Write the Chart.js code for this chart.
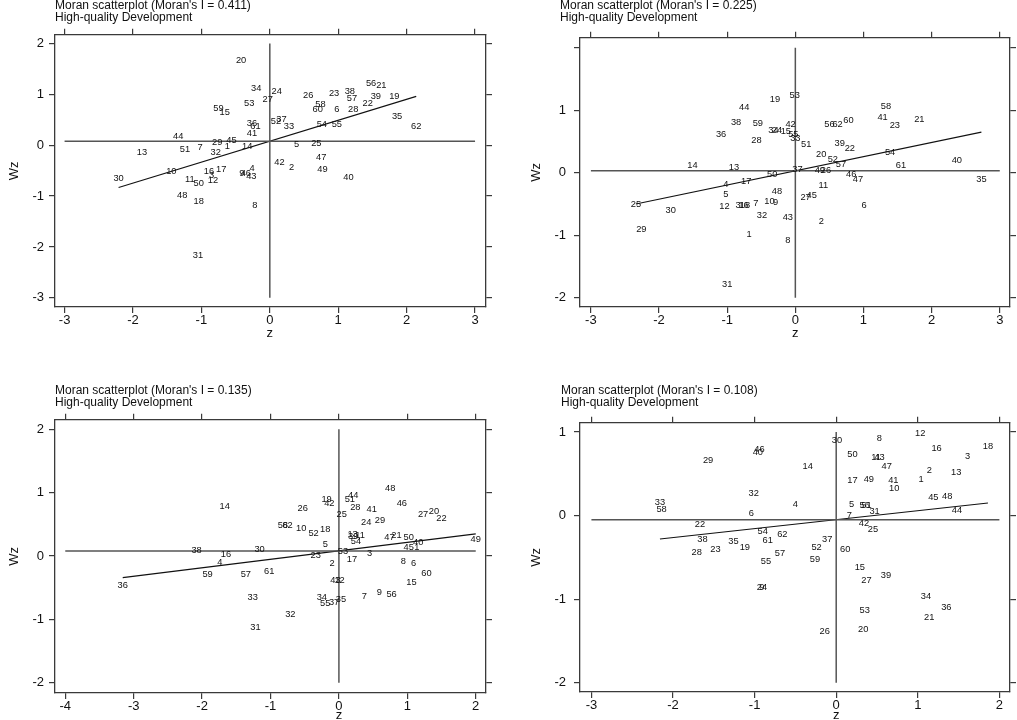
<!DOCTYPE html>
<html>
<head>
<meta charset="utf-8">
<script src="https://cdn.jsdelivr.net/npm/chart.js@4.4.1/dist/chart.umd.min.js"></script>
<style>
body{margin:0;background:#fff;width:1017px;height:720px;position:relative;overflow:hidden;font-family:"Liberation Sans",Arial,sans-serif;}
canvas{position:absolute;}
.ttl{position:absolute;font-size:12px;line-height:11.5px;color:#111;white-space:nowrap;}
</style>
</head>
<body>
<canvas id="chart1" width="500" height="320" style="left:0;top:22px"></canvas>
<canvas id="chart2" width="509" height="320" style="left:508px;top:22px"></canvas>
<canvas id="chart3" width="500" height="313" style="left:0;top:407px"></canvas>
<canvas id="chart4" width="509" height="313" style="left:508px;top:407px"></canvas>
<div class="ttl" style="left:55px;top:0">Moran scatterplot (Moran's I = 0.411)<br>High-quality Development</div>
<div class="ttl" style="left:560px;top:0">Moran scatterplot (Moran's I = 0.225)<br>High-quality Development</div>
<div class="ttl" style="left:55px;top:385px">Moran scatterplot (Moran's I = 0.135)<br>High-quality Development</div>
<div class="ttl" style="left:561px;top:385px">Moran scatterplot (Moran's I = 0.108)<br>High-quality Development</div>
<script>
//region numbers, same order in every panel
const regionIds=[1,2,3,4,5,6,7,8,9,10,11,12,13,14,15,16,17,18,19,20,21,22,23,24,25,26,27,28,29,30,
  31,32,33,34,35,36,37,38,39,40,41,42,43,44,45,46,47,48,49,50,51,52,53,54,55,56,57,58,59,60,61,62];

//panel 1 (I = 0.411)
const p1Z=[-0.62,0.32,-0.85,-0.26,0.39,0.98,-1.02,-0.22,-0.41,-1.44, -1.17,-0.83,-1.87,-0.33,-0.66,-0.89,-0.71,-1.04,1.82,-0.42,
  1.63,1.43,0.94,0.10,0.68,0.56,-0.03,1.22,-0.77,-2.21, -1.05,-0.79,0.28,-0.20,1.86,-0.26,0.17,1.17,1.55,1.15,
  -0.26,0.14,-0.27,-1.34,-0.56,-0.35,0.75,-1.28,0.77,-1.04, -1.24,0.09,-0.30,0.76,0.98,1.48,1.20,0.74,-0.75,0.70, -0.21,2.14];
const p1Wz=[-0.03,-0.43,-0.60,-0.45,0.01,0.70,-0.05,-1.18,-0.56,-0.52, -0.68,-0.69,-0.15,-0.03,0.65,-0.51,-0.47,-1.11,0.95,1.66,
  1.18,0.83,1.02,1.05,0.04,0.97,0.90,0.70,0.05,-0.66, -2.17,-0.15,0.36,1.11,0.56,0.43,0.50,1.05,0.96,-0.63,
  0.23,-0.33,-0.62,0.17,0.10,-0.56,-0.24,-0.99,-0.47,-0.75, -0.08,0.46,0.83,0.41,0.41,1.22,0.91,0.80,0.72,0.71, 0.36,0.36];
const p1FitZ=[-2.21,2.14], p1FitWz=[-0.83,0.96];
const p1MeanWz=0.08;
const p1XTicks=[-3,-2,-1,0,1,2,3], p1XLabels=['-3','-2','-1','0','1','2','3'];
const p1YTicks=[-3,-2,-1,0,1,2], p1YLabels=['-3','-2','-1','0','1','2'];

//panel 2 (I = 0.225)
const p2Z=[-0.68,0.38,-0.84,-1.02,-1.02,1.01,-0.58,-0.11,-0.29,-0.38, 0.41,-1.04,-0.90,-1.51,-0.14,-0.76,-0.72,-0.74,-0.30,0.38,
  1.82,0.80,1.46,-0.27,-2.34,0.45,0.15,-0.57,-2.26,-1.83, -1.00,-0.49,0.00,-0.32,2.73,-1.09,0.03,-0.87,0.65,2.37,
  1.28,-0.07,-0.11,-0.75,0.24,0.82,0.92,-0.27,0.36,-0.34, 0.16,0.55,-0.01,1.39,-0.03,0.50,0.67,1.33,-0.55,0.78, 1.55,0.62];
const p2Wz=[-0.99,-0.78,-0.52,-0.19,-0.34,-0.52,-0.49,-1.08,-0.47,-0.46, -0.21,-0.54,0.08,0.11,0.66,-0.52,-0.14,-0.52,1.17,0.30,
  0.86,0.39,0.75,0.67,-0.51,0.03,-0.40,0.51,-0.91,-0.61, -1.79,-0.69,0.55,0.67,-0.11,0.62,0.05,0.81,0.47,0.20,
  0.89,0.78,-0.71,1.04,-0.37,-0.03,-0.10,-0.30,0.03,-0.02, 0.45,0.22,1.24,0.32,0.61,0.77,0.13,1.06,0.79,0.83, 0.12,0.77];
const p2FitZ=[-2.34,2.73], p2FitWz=[-0.50,0.65];
const p2MeanWz=0.03;
const p2XTicks=[-3,-2,-1,0,1,2,3], p2XLabels=['-3','-2','-1','0','1','2','3'];
const p2YTicks=[-2,-1,0,1,2], p2YLabels=['-2','-1','0','1',''];

//panel 3 (I = 0.135)
const p3Z=[1.14,-0.10,0.45,-1.74,-0.20,1.09,0.37,0.94,0.59,-0.55, 0.31,0.01,0.20,-1.67,1.06,-1.65,0.19,-0.20,-0.18,1.39,
  0.84,1.50,-0.34,0.40,0.04,-0.53,1.23,0.24,0.60,-1.16, -1.22,-0.71,-1.26,-0.25,0.03,-3.16,-0.07,-2.08,0.21,1.16,
  0.48,-0.14,-0.05,0.21,1.02,0.92,0.74,0.75,2.00,1.02, 0.16,-0.37,0.06,0.25,-0.20,0.77,-1.36,-0.82,-1.92,1.28, -1.02,-0.75];
const p3Wz=[0.14,-0.12,0.04,-0.10,0.18,-0.11,-0.64,-0.09,-0.57,0.43, 0.33,-0.39,0.34,0.79,-0.42,0.03,-0.05,0.42,0.89,0.70,
  0.33,0.59,0.01,0.53,0.65,0.75,0.65,0.77,0.57,0.10, -1.13,-0.92,-0.66,-0.66,-0.68,-0.46,-0.73,0.09,0.31,0.22,
  0.74,0.83,-0.39,0.95,0.14,0.83,0.29,1.06,0.27,0.29, 0.90,0.36,0.08,0.23,-0.75,-0.60,-0.29,0.49,-0.29,-0.28, -0.24,0.49];
const p3FitZ=[-3.16,2.00], p3FitWz=[-0.34,0.35];
const p3MeanWz=0.08;
const p3XTicks=[-4,-3,-2,-1,0,1,2], p3XLabels=['-4','-3','-2','-1','0','1','2'];
const p3YTicks=[-2,-1,0,1,2], p3YLabels=['-2','-1','0','1','2'];

//panel 4 (I = 0.108)
const p4Z=[1.04,1.14,1.61,-0.50,0.19,-1.04,0.16,0.53,-0.91,0.71, 0.49,1.03,1.47,-0.35,0.29,1.23,0.20,1.86,-1.12,0.33,
  1.14,-1.67,-1.48,-0.91,0.45,-0.14,0.37,-1.71,-1.57,0.01, 0.47,-1.01,-2.16,1.10,-1.26,1.35,-0.11,-1.64,0.61,-0.96,
  0.70,0.34,0.53,1.48,1.19,-0.94,0.62,1.36,0.40,0.20, 0.37,-0.24,0.35,-0.90,-0.86,0.35,-0.69,-2.14,-0.26,0.11, -0.84,-0.66];
const p4Wz=[0.43,0.54,0.71,0.13,0.13,0.02,0.00,0.92,-0.86,0.32, 0.69,0.98,0.52,0.59,-0.62,0.80,0.42,0.83,-0.38,-1.36,
  -1.22,-0.11,-0.40,-0.86,-0.17,-1.39,-0.78,-0.44,0.66,0.90, 0.05,0.26,0.16,-0.97,-0.31,-1.10,-0.29,-0.29,-0.72,0.75,
  0.42,-0.09,0.69,0.06,0.22,0.79,0.59,0.23,0.43,0.73, 0.12,-0.38,-1.13,-0.19,-0.55,0.12,-0.45,0.07,-0.53,-0.40, -0.30,-0.23];
const p4FitZ=[-2.16,1.86], p4FitWz=[-0.28,0.15];
const p4MeanWz=-0.05;
const p4XTicks=[-3,-2,-1,0,1,2], p4XLabels=['-3','-2','-1','0','1','2'];
const p4YTicks=[-2,-1,0,1], p4YLabels=['-2','-1','0','1'];

const xTitle='z', yTitle='Wz';

const FONT='"Liberation Sans", Arial, sans-serif';
const INK='#111';
const FRAME='#3a3a3a';

//draws region number centred on each point, and the z title under the 0 tick
const regionLabels={
  id:'regionLabels',
  afterDatasetsDraw(chart){
    const ctx=chart.ctx;
    const meta=chart.getDatasetMeta(0);
    const ds=chart.data.datasets[0];
    ctx.save();
    ctx.font='9.3px '+FONT;
    ctx.fillStyle=INK;
    ctx.textAlign='center';
    ctx.textBaseline='middle';
    meta.data.forEach((el,i)=>{
      ctx.fillText(String(ds.data[i].id),el.x,el.y);
    });
    ctx.restore();
  },
  afterDraw(chart,args,opts){
    const ctx=chart.ctx;
    ctx.save();
    ctx.font='13px '+FONT;
    ctx.fillStyle=INK;
    ctx.textAlign='center';
    ctx.textBaseline='middle';
    ctx.fillText(xTitle,chart.scales.x.getPixelForValue(0),chart.height-opts.zFromBottom);
    ctx.restore();
  }
};

function axis(pos,min,max,ticks,labels,size,opt){
  const horiz=(pos==='bottom'||pos==='top');
  const main=(pos==='bottom'||pos==='left');
  return {
    type:'linear',position:pos,min:min,max:max,
    afterBuildTicks:s=>{s.ticks=ticks.map(v=>({value:v}));},
    afterFit:s=>{ if(horiz){s.height=size;}else{s.width=size;} },
    ticks:{
      display:main,autoSkip:false,maxRotation:0,
      padding:opt.pad||0,
      color:INK,font:{family:FONT,size:13},
      callback:(v,i)=>labels[i]
    },
    grid:{drawOnChartArea:false,drawTicks:true,tickLength:6,color:FRAME,lineWidth:1.2},
    border:{display:true,color:FRAME,width:1.3},
    title:{
      display:!!opt.title,text:opt.title||'',color:INK,
      font:{family:FONT,size:13,lineHeight:1},
      padding:opt.titlePad||{top:0,bottom:0}
    }
  };
}

function moranChart(id,p){
  const pts=regionIds.map((r,i)=>({x:p.z[i],y:p.wz[i],id:r}));
  return new Chart(document.getElementById(id),{
    type:'scatter',
    data:{
      datasets:[
        {label:'regions',data:pts,pointRadius:0,pointHoverRadius:0,showLine:false},
        {label:'mean',data:[{x:p.xTicks[0],y:p.meanWz},{x:p.xTicks[p.xTicks.length-1],y:p.meanWz}],
          showLine:true,pointRadius:0,borderColor:'#555',borderWidth:1.5},
        {label:'axis0',data:[{x:0,y:p.yTicks[0]},{x:0,y:p.yTicks[p.yTicks.length-1]}],
          showLine:true,pointRadius:0,borderColor:'#555',borderWidth:1.5},
        {label:'fit',data:[{x:p.fitZ[0],y:p.fitWz[0]},{x:p.fitZ[1],y:p.fitWz[1]}],
          showLine:true,pointRadius:0,borderColor:'#111',borderWidth:1.1}
      ]
    },
    options:{
      responsive:false,animation:false,
      layout:{padding:0},
      plugins:{legend:{display:false},tooltip:{enabled:false},regionLabels:{zFromBottom:p.zFromBottom}},
      scales:{
        x:axis('bottom',p.xMin,p.xMax,p.xTicks,p.xLabels,p.bottom,{}),
        x2:axis('top',p.xMin,p.xMax,p.xTicks,p.xLabels,p.top,{}),
        y:axis('left',p.yMin,p.yMax,p.yTicks,p.yLabels,p.left,{title:yTitle,pad:p.yPad,titlePad:{top:p.wzPad,bottom:0}}),
        y2:axis('right',p.yMin,p.yMax,p.yTicks,p.yLabels,p.right,{})
      }
    },
    plugins:[regionLabels]
  });
}

let chart1=moranChart('chart1',{z:p1Z,wz:p1Wz,fitZ:p1FitZ,fitWz:p1FitWz,meanWz:p1MeanWz,
  xTicks:p1XTicks,xLabels:p1XLabels,yTicks:p1YTicks,yLabels:p1YLabels,
  xMin:-3.14,xMax:3.16,yMin:-3.18,yMax:2.17,left:55,top:9,right:14,bottom:35,yPad:5,wzPad:8,zFromBottom:9});
let chart2=moranChart('chart2',{z:p2Z,wz:p2Wz,fitZ:p2FitZ,fitWz:p2FitWz,meanWz:p2MeanWz,
  xTicks:p2XTicks,xLabels:p2XLabels,yTicks:p2YTicks,yLabels:p2YLabels,
  xMin:-3.16,xMax:3.15,yMin:-2.15,yMax:2.16,left:72,top:8,right:7,bottom:35,yPad:8,wzPad:22,zFromBottom:9});
let chart3=moranChart('chart3',{z:p3Z,wz:p3Wz,fitZ:p3FitZ,fitWz:p3FitWz,meanWz:p3MeanWz,
  xTicks:p3XTicks,xLabels:p3XLabels,yTicks:p3YTicks,yLabels:p3YLabels,
  xMin:-4.15,xMax:2.15,yMin:-2.16,yMax:2.15,left:55,top:9,right:14,bottom:27,yPad:5,wzPad:8,zFromBottom:5});
let chart4=moranChart('chart4',{z:p4Z,wz:p4Wz,fitZ:p4FitZ,fitWz:p4FitWz,meanWz:p4MeanWz,
  xTicks:p4XTicks,xLabels:p4XLabels,yTicks:p4YTicks,yLabels:p4YLabels,
  xMin:-3.14,xMax:2.13,yMin:-2.11,yMax:1.11,left:72,top:9,right:7,bottom:28,yPad:8,wzPad:22,zFromBottom:5});
</script>
</body>
</html>
